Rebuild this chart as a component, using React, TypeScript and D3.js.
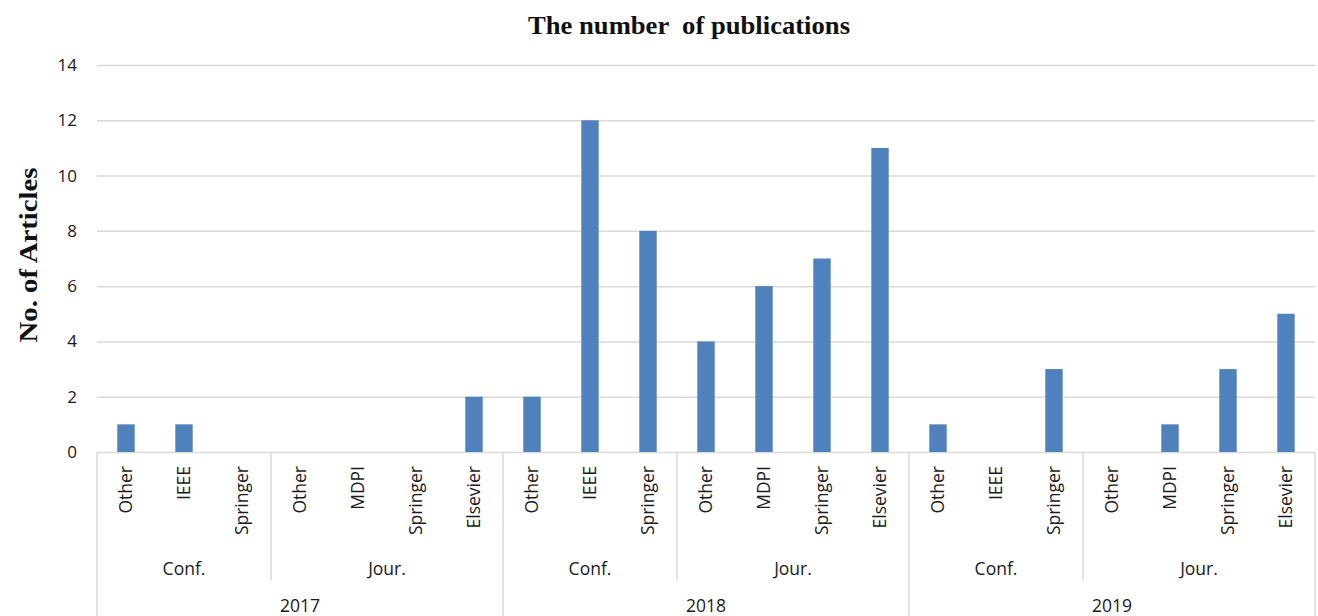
import { useEffect, useRef } from 'react';
import * as d3 from 'd3';

const years = ['2017', '2018', '2019'];
const confPublishers = ['Other', 'IEEE', 'Springer'];
const jourPublishers = ['Other', 'MDPI', 'Springer', 'Elsevier'];
const yTicks = [0, 2, 4, 6, 8, 10, 12, 14];

// values per year: conf (Other, IEEE, Springer), jour (Other, MDPI, Springer, Elsevier)
const conf2017 = [1, 1, 0];
const jour2017 = [0, 0, 0, 2];
const conf2018 = [2, 12, 8];
const jour2018 = [4, 6, 7, 11];
const conf2019 = [1, 0, 3];
const jour2019 = [0, 1, 3, 5];

const confValues = [conf2017, conf2018, conf2019];
const jourValues = [jour2017, jour2018, jour2019];

interface Row {
	id: string;
	year: string;
	type: string;
	publisher: string;
	value: number;
}

const rows: Row[] = [];
years.forEach((year, yi) => {
	confPublishers.forEach((p, i) =>
		rows.push({ id: `${year}-c-${p}`, year, type: 'Conf.', publisher: p, value: confValues[yi][i] }),
	);
	jourPublishers.forEach((p, i) =>
		rows.push({ id: `${year}-j-${p}`, year, type: 'Jour.', publisher: p, value: jourValues[yi][i] }),
	);
});

export default function App() {
	const svgRef = useRef<SVGSVGElement>(null);
	const width = 1318;
	const height = 616;
	const margin = { top: 65, right: 3, bottom: 164, left: 97 };
	const barColor = '#4f81bd';
	const gridColor = '#d9d9d9';
	const labelFont = "'Open Sans', 'Liberation Sans', sans-serif";
	const textColor = '#1a1a1a';

	useEffect(() => {
		if (!svgRef.current) return;
		const svg = d3.select(svgRef.current);
		svg.selectAll('*').remove();

		const innerWidth = width - margin.left - margin.right;
		const innerHeight = height - margin.top - margin.bottom;

		const x = d3
			.scaleBand()
			.domain(rows.map((d) => d.id))
			.range([margin.left, margin.left + innerWidth])
			.padding(0);

		const y = d3
			.scaleLinear()
			.domain([0, 14])
			.range([margin.top + innerHeight, margin.top]);

		const y0 = y(0);

		// gridlines
		svg
			.append('g')
			.attr('transform', `translate(${margin.left},0)`)
			.call(
				d3
					.axisLeft(y)
					.tickValues(yTicks)
					.tickSize(-innerWidth)
					.tickFormat(() => ''),
			)
			.call((g) => g.select('.domain').remove())
			.selectAll('line')
			.attr('stroke', gridColor)
			.attr('stroke-width', 1.5);

		// y tick labels
		svg
			.append('g')
			.selectAll('text')
			.data(yTicks)
			.enter()
			.append('text')
			.attr('x', margin.left - 20)
			.attr('y', (d) => y(d))
			.attr('dy', '0.35em')
			.attr('text-anchor', 'end')
			.style('font-family', labelFont)
			.style('font-size', '17px')
			.style('fill', textColor)
			.text((d) => d);

		// bars
		const barW = x.bandwidth() * 0.3;
		svg
			.append('g')
			.selectAll('rect')
			.data(rows.filter((d) => d.value > 0))
			.enter()
			.append('rect')
			.attr('x', (d) => (x(d.id) as number) + (x.bandwidth() - barW) / 2)
			.attr('y', (d) => y(d.value))
			.attr('width', barW)
			.attr('height', (d) => y0 - y(d.value))
			.attr('fill', barColor);

		// publisher labels (rotated)
		svg
			.append('g')
			.selectAll('text')
			.data(rows)
			.enter()
			.append('text')
			.attr(
				'transform',
				(d) => `translate(${(x(d.id) as number) + x.bandwidth() / 2 + 6},${y0 + 14}) rotate(-90)`,
			)
			.attr('text-anchor', 'end')
			.style('font-family', labelFont)
			.style('font-size', '17.5px')
			.style('fill', textColor)
			.text((d) => d.publisher);

		// separators
		const sep = svg.append('g').attr('stroke', gridColor).attr('stroke-width', 1.5);
		const groups = d3.groups(rows, (d) => d.year, (d) => d.type);
		groups.forEach(([year, types], yi) => {
			const yearRows = rows.filter((r) => r.year === year);
			const yStart = x(yearRows[0].id) as number;
			const yEnd = (x(yearRows[yearRows.length - 1].id) as number) + x.bandwidth();
			if (yi === 0) {
				sep.append('line').attr('x1', yStart).attr('x2', yStart).attr('y1', y0).attr('y2', height);
			}
			sep.append('line').attr('x1', yEnd).attr('x2', yEnd).attr('y1', y0).attr('y2', height);

			types.forEach(([type, tRows], ti) => {
				const tStart = x(tRows[0].id) as number;
				const tEnd = (x(tRows[tRows.length - 1].id) as number) + x.bandwidth();
				if (ti < types.length - 1) {
					sep.append('line').attr('x1', tEnd).attr('x2', tEnd).attr('y1', y0).attr('y2', y0 + 128);
				}
				svg
					.append('text')
					.attr('x', (tStart + tEnd) / 2)
					.attr('y', y0 + 123)
					.attr('text-anchor', 'middle')
					.style('font-family', labelFont)
					.style('font-size', '17.5px')
					.style('fill', textColor)
					.text(type);
			});

			svg
				.append('text')
				.attr('x', (yStart + yEnd) / 2)
				.attr('y', y0 + 160)
				.attr('text-anchor', 'middle')
				.style('font-family', labelFont)
				.style('font-size', '17.5px')
				.style('fill', textColor)
				.text(year);
		});

		// title
		svg
			.append('text')
			.attr('x', 689)
			.attr('y', 34)
			.attr('text-anchor', 'middle')
			.attr('textLength', 322)
			.attr('lengthAdjust', 'spacingAndGlyphs')
			.style('font-family', "'Liberation Serif', 'Times New Roman', serif")
			.style('font-weight', 'bold')
			.style('font-size', '25px')
			.style('white-space', 'pre')
			.style('fill', '#111')
			.text('The number  of publications');

		// y axis title
		svg
			.append('text')
			.attr('transform', `translate(37,255) rotate(-90)`)
			.attr('text-anchor', 'middle')
			.attr('textLength', 175)
			.attr('lengthAdjust', 'spacingAndGlyphs')
			.style('font-family', "'Liberation Serif', 'Times New Roman', serif")
			.style('font-weight', 'bold')
			.style('font-size', '26px')
			.style('fill', '#111')
			.text('No. of Articles');
	}, []);

	return (
		<div style={{ position: 'absolute', left: 0, top: 0, background: '#fff' }}>
			<svg ref={svgRef} width={width} height={height} style={{ display: 'block' }}></svg>
		</div>
	);
}
